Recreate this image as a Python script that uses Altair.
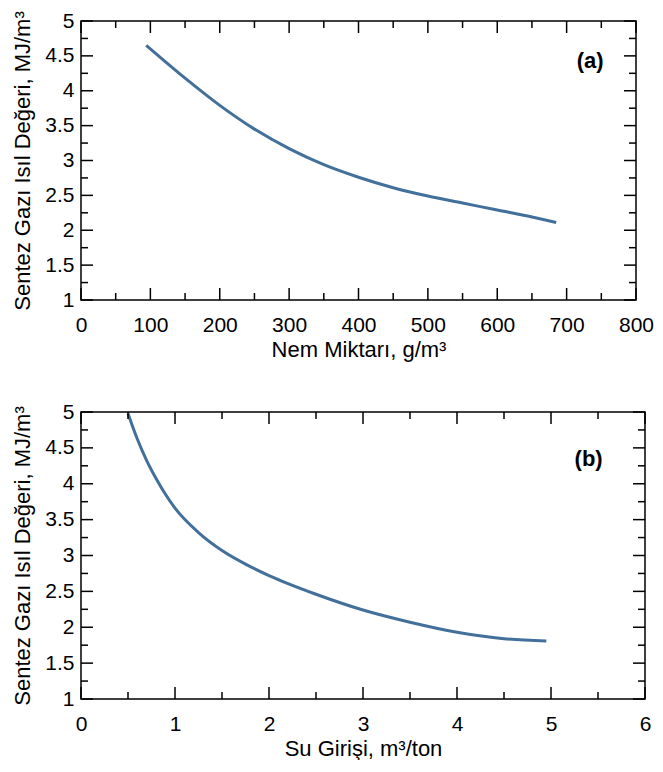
import altair as alt
import pandas as pd

# Panel (a): Nem Miktarı vs Sentez Gazı Isıl Değeri
A_X = [94, 150, 200, 250, 300, 350, 400, 450, 500, 550, 600, 650, 685]
A_Y = [4.65, 4.18, 3.79, 3.45, 3.17, 2.94, 2.76, 2.61, 2.49, 2.39, 2.29, 2.19, 2.11]

# Panel (b): Su Girişi vs Sentez Gazı Isıl Değeri
B_X = [0.50, 0.60, 0.70, 0.80, 0.90, 1.00, 1.25, 1.50, 1.75, 2.00, 2.50, 3.00, 3.50, 4.00, 4.50, 4.95]
B_Y = [4.98, 4.62, 4.32, 4.07, 3.85, 3.66, 3.32, 3.07, 2.88, 2.72, 2.46, 2.24, 2.07, 1.93, 1.84, 1.81]

A_XMAJOR = [0, 100, 200, 300, 400, 500, 600, 700, 800]
A_XMINOR = [50, 150, 250, 350, 450, 550, 650, 750]
B_XMAJOR = [0, 1, 2, 3, 4, 5, 6]
B_XMINOR = [0.5, 1.5, 2.5, 3.5, 4.5, 5.5]
YMAJOR = [1, 1.5, 2, 2.5, 3, 3.5, 4, 4.5, 5]
YMINOR = [1.25, 1.75, 2.25, 2.75, 3.25, 3.75, 4.25, 4.75]

Y_TITLE = "Sentez Gazı Isıl Değeri, MJ/m³"
A_XTITLE = "Nem Miktarı, g/m³"
B_XTITLE = "Su Girişi, m³/ton"
A_LABEL = ["(a)"]
A_LABEL_POS = ([734], [4.43])
B_LABEL = ["(b)"]
B_LABEL_POS = ([5.40], [4.35])

LINE_COLOR = "#43709a"
FONT = "Liberation Sans, Arial"


def panel(xs, ys, xdomain, xmajor, xminor, width, height, xtitle, lab, labpos):
    df = pd.DataFrame({"x": xs, "y": ys})
    xscale = alt.Scale(domain=xdomain, nice=False, zero=False)
    yscale = alt.Scale(domain=[1, 5], nice=False, zero=False)
    xaxis = alt.Axis(values=xmajor, title=xtitle, format="~r",
                     ticks=False, domain=False, grid=False,
                     labelPadding=14, titlePadding=4,
                     labelFontSize=21, titleFontSize=22,
                     labelColor="black", titleColor="black",
                     titleFontWeight="normal", labelFlush=False)
    yaxis = alt.Axis(values=YMAJOR, title=Y_TITLE, format="~r",
                     ticks=False, domain=False, grid=False,
                     labelPadding=7, titlePadding=10,
                     labelFontSize=21, titleFontSize=22,
                     labelColor="black", titleColor="black",
                     titleFontWeight="normal", labelFlush=False)
    X = lambda: alt.X("x:Q", scale=xscale, axis=xaxis)
    Y = lambda: alt.Y("y:Q", scale=yscale, axis=yaxis)

    line = alt.Chart(df).mark_line(color=LINE_COLOR, strokeWidth=3,
                                   interpolate="monotone").encode(x=X(), y=Y())

    def xticks(vals, length):
        d = pd.DataFrame({"x": vals})
        bottom = alt.Chart(d).mark_rule(color="black", strokeWidth=1.5).encode(
            x=X(), y=alt.value(height), y2=alt.value(height - length))
        top = alt.Chart(d).mark_rule(color="black", strokeWidth=1.5).encode(
            x=X(), y=alt.value(0), y2=alt.value(length))
        return [bottom, top]

    def yticks(vals, length):
        d = pd.DataFrame({"y": vals})
        left = alt.Chart(d).mark_rule(color="black", strokeWidth=1.5).encode(
            y=Y(), x=alt.value(0), x2=alt.value(length))
        right = alt.Chart(d).mark_rule(color="black", strokeWidth=1.5).encode(
            y=Y(), x=alt.value(width), x2=alt.value(width - length))
        return [left, right]

    ldf = pd.DataFrame({"x": labpos[0], "y": labpos[1], "t": lab})
    text = alt.Chart(ldf).mark_text(fontSize=22, fontWeight="bold",
                                    color="black").encode(
        x=X(), y=Y(), text="t:N")

    layers = [line] + xticks(xmajor, 12) + xticks(xminor, 7) + \
        yticks(YMAJOR, 12) + yticks(YMINOR, 7) + [text]
    return alt.layer(*layers).properties(width=width, height=height)


pa = panel(A_X, A_Y, [0, 800], A_XMAJOR, A_XMINOR, 555, 279, A_XTITLE, A_LABEL, A_LABEL_POS)
pb = panel(B_X, B_Y, [0, 6], B_XMAJOR, B_XMINOR, 564, 287, B_XTITLE, B_LABEL, B_LABEL_POS)

chart = alt.vconcat(pa, pb, spacing=39).configure(
    font=FONT
).configure_view(stroke="black", strokeWidth=1.5).properties(
    padding={"left": 3, "top": 1, "right": 0, "bottom": 0})

chart.save("out.html", embed_options={"renderer": "svg", "actions": False})
